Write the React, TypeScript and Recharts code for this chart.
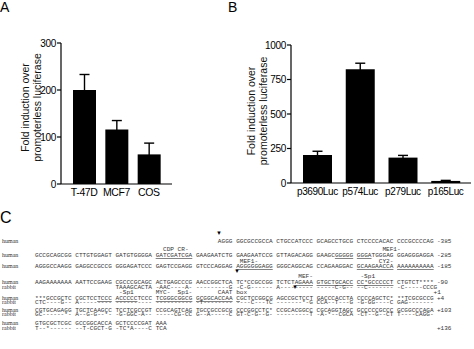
import React from "react";
import { BarChart, Bar, XAxis, YAxis, ErrorBar } from "recharts";

// panel A: cell lines
const panelACategories = ["T-47D", "MCF7", "COS"];
const panelAValues = [200, 116, 63];
const panelAErrors = [33, 19, 24];
const panelATicks = [0, 100, 200, 300];

// panel B: promoter deletion constructs
const panelBCategories = ["p3690Luc", "p574Luc", "p279Luc", "p165Luc"];
const panelBValues = [203, 824, 184, 15];
const panelBErrors = [27, 44, 16, 4];
const panelBTicks = [0, 250, 500, 750, 1000];

const axisTitleLines = ["Fold induction over", "promoterless luciferase"];

// panel C: sequence alignment, [label, text, position number]; [..] marks underlined bits
const seqLines: [string, string, string][] = [
  ["human", "                                                  AGGG GGCGCCGCCA CTGCCATCCC GCAGCCTGCG CTCCCCACAC CCCGCCCCAG", "-385"],
  ["", "                                   CDP CR-                                                     MEF1-", ""],
  ["human", "GCCGCAGCGG CTTGTGGAGT GATGTGGGGA [GATCGATCGA] GAAGAATCTG GAAGAATCCG GTTAGACAGG GAAGC[GGGGG] [GGGA]TGGGAG GGAGGGAGGA", "-285"],
  ["", "                                                        MEF1-                                 CY2-", ""],
  ["human", "AGGGCCAAGG GAGGCCGCCG GGGAGATCCC GAGTCCGAGG GTCCCAGGAG [AGGGGGGAGG] GGGCAGGCAG CCAGAAGGAC [GCAAGAACCA] [AAAAAAAAAA]", "-185"],
  ["", "                                                                        MEF-             -Sp1", ""],
  ["human", "AAGAAAAAAA AATTCCGAAG CGCCCGCAGC ACTGAGCCCG AACCGGCTCA TC*CCGCCGG TCTCT[AGAAA] [GTGCTGCACC] [CC*GCCCCCT] CTGTCT****", "-90"],
  ["rabbit", "                      TAAAGCACTA -AAC----A- ---------G -C-G------ A--------- -----C-G-- --C------- -C-----CCCG", ""],
  ["", "                       -Sp1      MYC-  Sp1-       CAAT box                                                   +1", ""],
  ["human", "***GCCGCTC CGCTCC[TCCC] [ACCCCC]TCCC [TCGGGCGGCG] [GCGGCACCAA] [C]GCTCCGGCG AGCCGCTCCT GACCCACCTA CCCCAGCTC* **TCGCGCCG", "+4"],
  ["rabbit", "CTC----G-- A--------- ---------- ---------- -T-------- ----C---TC -------*-G CCA--T---G -G-GG----C GAG-------", ""],
  ["human", "CGTGCAGAGG TGCTCAAGCC TCCTCGCCGT CCGCAGTCAG TGCCGCCGCG CCCGGCCTC* CCGCACGGCC CGCAGGTAGC GCCCCCGCCC GCGGCCCAGA", "+103"],
  ["rabbit", "GC------*- A--G-G--*- -G-GGC-A-- -----CG-CC G--A-----C GT-C-G--G- ---------T -A-*--CGCA -CT--G--CT T----CAGG-", ""],
  ["human", "GTGCGCTCGC GCCGGCACCA GCTCCCCGAT AAA", ""],
  ["rabbit", "T--*------ --T-CGCT-G -TC*A----C TCA", "+136"],
];

const panelAData = panelACategories.map((name, i) => ({
  name,
  value: panelAValues[i],
  err: panelAErrors[i],
}));

const panelBData = panelBCategories.map((name, i) => ({
  name,
  value: panelBValues[i],
  err: panelBErrors[i],
}));

const sans = "'Liberation Sans', Arial, Helvetica, sans-serif";
const mono = "'Liberation Mono', 'Courier New', monospace";

function AxisTitle({ lineXs, centerY }: { lineXs: number[]; centerY: number }) {
  return (
    <g>
      {axisTitleLines.map((t, i) => (
        <text
          key={t}
          x={lineXs[i]}
          y={centerY}
          transform={`rotate(-90, ${lineXs[i]}, ${centerY})`}
          textAnchor="middle"
          dominantBaseline="central"
          fontSize={10.5}
          fontFamily={sans}
          fill="#111"
        >
          {t}
        </text>
      ))}
    </g>
  );
}

type PanelProps = {
  data: { name: string; value: number; err: number }[];
  ticks: number[];
  width: number;
  margin: { top: number; right: number; bottom: number; left: number };
  pad: { left: number; right: number };
  barSize: number;
  titleXs: number[];
  titleY: number;
  left: number;
  labelSize: number;
};

function Panel({ data, ticks, width, margin, pad, barSize, titleXs, titleY, left, labelSize }: PanelProps) {
  return (
    <div style={{ position: "absolute", left, top: 0 }}>
      <BarChart width={width} height={205} data={data} margin={margin}>
        <XAxis
          dataKey="name"
          interval={0}
          tickLine={false}
          tickSize={0}
          tickMargin={5}
          height={20}
          padding={pad}
          axisLine={{ stroke: "#000", strokeWidth: 1.2 }}
          tick={{ fill: "#000", fontSize: labelSize, fontFamily: sans, letterSpacing: -0.4 }}
        />
        <YAxis
          type="number"
          width={61}
          domain={[ticks[0], ticks[ticks.length - 1]]}
          ticks={ticks}
          interval={0}
          tickSize={4}
          tickMargin={1}
          axisLine={{ stroke: "#000", strokeWidth: 1.2 }}
          tickLine={{ stroke: "#000", strokeWidth: 1.2 }}
          tick={{ fill: "#000", fontSize: 10, fontFamily: sans, letterSpacing: -0.3 }}
          label={<AxisTitle lineXs={titleXs} centerY={titleY} />}
        />
        <Bar dataKey="value" fill="#000" barSize={barSize} isAnimationActive={false}>
          <ErrorBar
            dataKey="err"
            direction="y"
            width={5}
            stroke="#000"
            strokeWidth={1.4}
            isAnimationActive={false}
          />
        </Bar>
      </BarChart>
    </div>
  );
}

function SeqLine({ text, x, y }: { text: string; x: number; y: number }) {
  const parts = text.split(/(\[[^\]]*\])/).filter((p) => p.length > 0);
  return (
    <text x={x} y={y} fontSize={6.1} fontFamily={mono} fill="#333" style={{ whiteSpace: "pre" }}>
      {parts.map((p, i) =>
        p.startsWith("[") ? (
          <tspan key={i} textDecoration="underline">
            {p.slice(1, -1)}
          </tspan>
        ) : (
          <tspan key={i}>{p}</tspan>
        )
      )}
    </text>
  );
}

export default function App() {
  // centres of each alignment line, top to bottom
  const lineY = [241, 249, 255, 261, 266, 276, 282, 287, 292, 298, 302, 310, 314, 323, 327.5];
  return (
    <div
      style={{
        position: "absolute",
        left: 0,
        top: 0,
        width: 474,
        height: 349,
        background: "#fff",
        overflow: "hidden",
      }}
    >
      <Panel
        data={panelAData}
        ticks={panelATicks}
        width={180}
        margin={{ top: 43, right: 8, bottom: 1, left: 0 }}
        pad={{ left: 7, right: 7 }}
        barSize={23}
        titleXs={[25, 37]}
        titleY={107.5}
        left={0}
        labelSize={10.5}
      />
      <Panel
        data={panelBData}
        ticks={panelBTicks}
        width={244}
        margin={{ top: 45, right: 3, bottom: 2, left: 0 }}
        pad={{ left: 5, right: 4 }}
        barSize={29}
        titleXs={[21, 33]}
        titleY={111}
        left={230}
        labelSize={10}
      />
      <svg
        width={474}
        height={349}
        style={{ position: "absolute", left: 0, top: 0, pointerEvents: "none" }}
      >
        <text x={0} y={12} fontSize={14} fontFamily={sans} fill="#000">A</text>
        <text x={228} y={12} fontSize={14} fontFamily={sans} fill="#000">B</text>
        <text x={0} y={223} fontSize={16} fontFamily={sans} fill="#000">C</text>
        <text x={216} y={235} fontSize={6} fill="#000">▼</text>
        <text x={234} y={273} fontSize={6} fill="#000">▼</text>
        <text x={292} y={289} fontSize={6} fill="#000">▼</text>
        {seqLines.map(([label, seq, num], i) => (
          <g key={i}>
            {label && (
              <text x={2} y={lineY[i] + 2} fontSize={6} fontFamily="'Liberation Serif', serif" fill="#333">
                {label}
              </text>
            )}
            <SeqLine text={seq} x={35} y={lineY[i] + 2} />
            {num && (
              <text x={437} y={lineY[i] + 2} fontSize={6} fontFamily={mono} fill="#333">
                {num}
              </text>
            )}
          </g>
        ))}
      </svg>
    </div>
  );
}
